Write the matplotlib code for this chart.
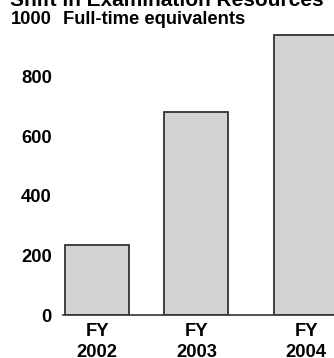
import matplotlib
matplotlib.use("Agg")
import matplotlib.pyplot as plt

# --- Data ---
years = ["FY\n2002", "FY\n2003", "FY\n2004"]
positions = [0, 1, 2.11]
fte = [235, 682, 940]
y_ticks = [0, 200, 400, 600, 800, 1000]

plt.rcParams['font.family'] = ['Liberation Sans', 'DejaVu Sans']
plt.rcParams['font.weight'] = 'bold'

W, H = 334, 358
fig = plt.figure(figsize=(W / 100, H / 100), dpi=100)
ax = fig.add_axes([63 / W, (H - 315) / H, (W - 63) / W, 298 / H])

ax.bar(positions, fte, width=0.646, color="#d3d3d3",
       edgecolor="#333333", linewidth=1.3, zorder=2)

ax.set_xlim(-0.346, 2.39)
ax.set_ylim(0, 1000)
ax.set_yticks(y_ticks)
ax.set_yticklabels([str(v) for v in y_ticks], fontsize=13.2, fontweight='bold')
ax.set_xticks(positions)
ax.set_xticklabels(years, fontsize=13.2, fontweight='bold', linespacing=1.28)
ax.tick_params(axis='y', length=0, pad=8)
ax.tick_params(axis='x', length=0, pad=6)

for side in ['top', 'right', 'left']:
    ax.spines[side].set_visible(False)
ax.spines['bottom'].set_color('#333333')
ax.spines['bottom'].set_linewidth(1.2)

# unit label beside the top tick, title cut at the top edge
fig.text(63 / W, (H - 19) / H, "Full-time equivalents", fontsize=13.2,
         fontweight='bold', va='center', ha='left')
fig.text(10 / W, (H - 6.5) / H, "Shift in Examination Resources", fontsize=15,
         fontweight='bold', va='baseline', ha='left')

fig.savefig("out.png", dpi=100)
